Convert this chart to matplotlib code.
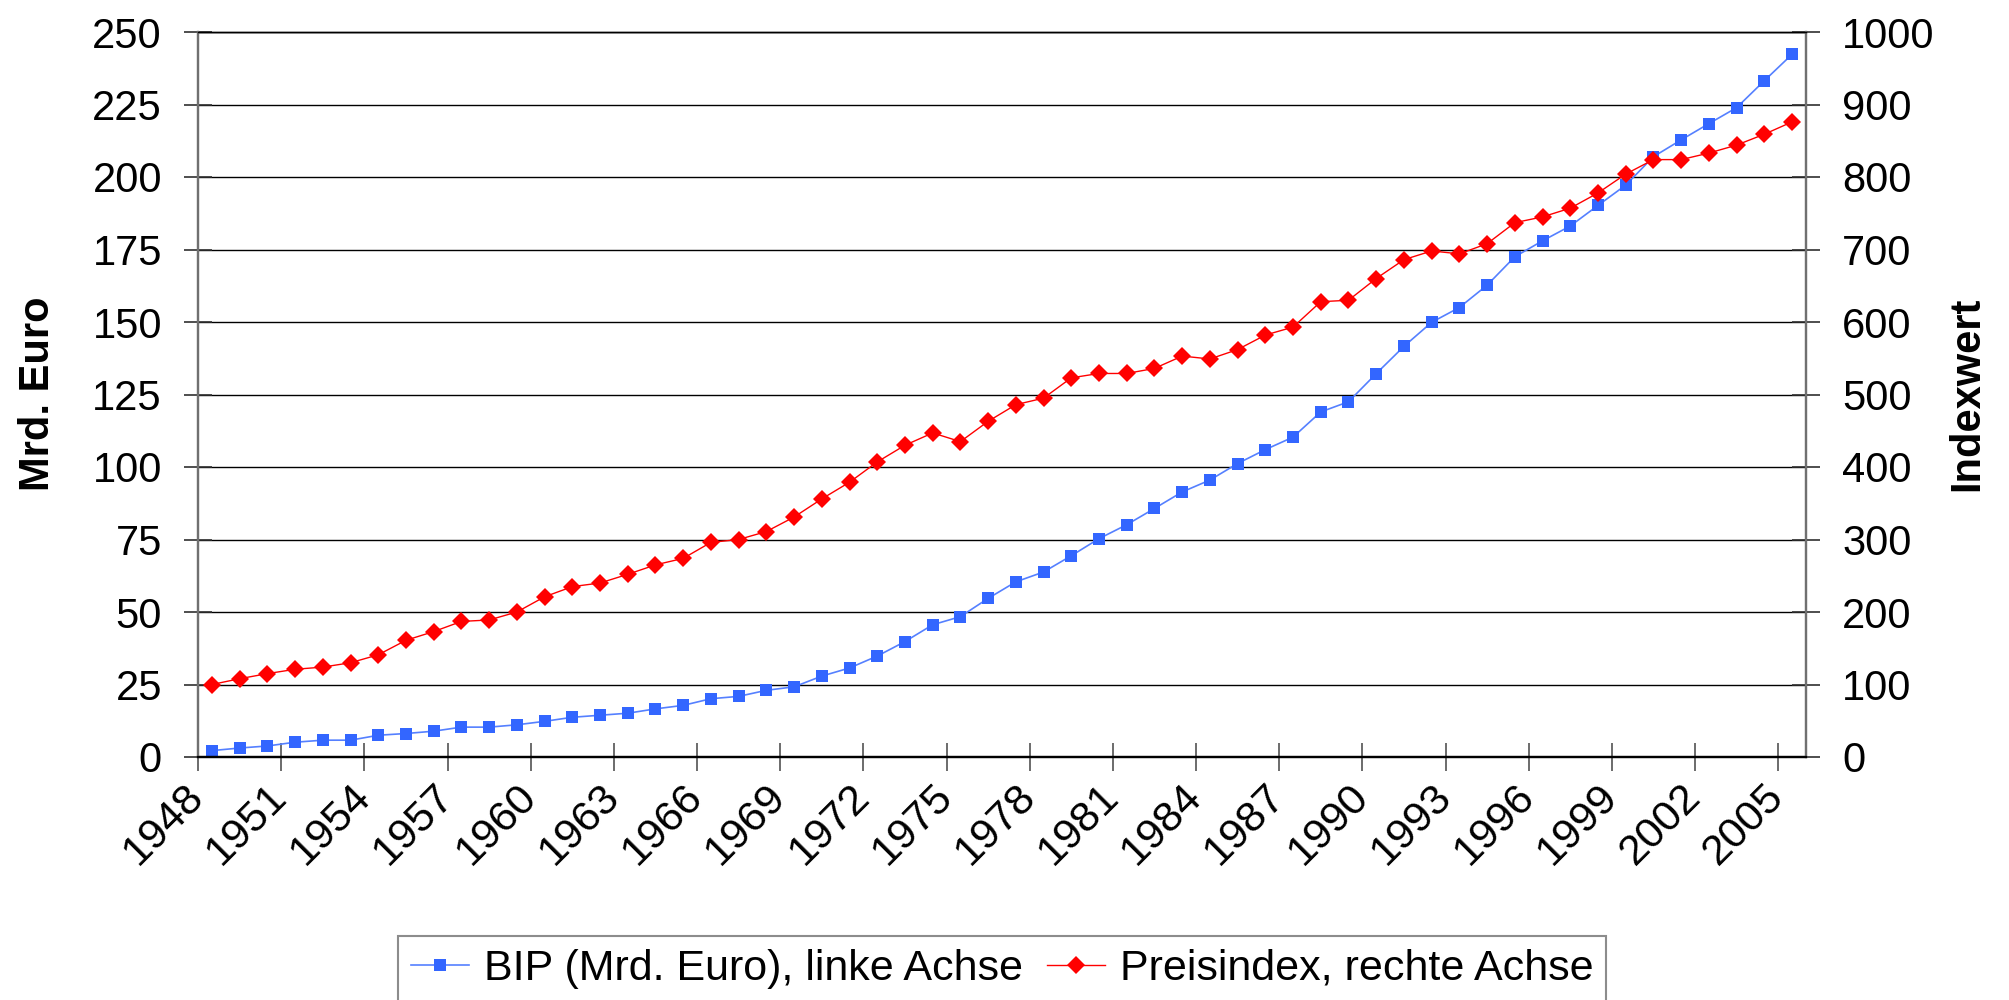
import numpy as np
import matplotlib
matplotlib.use('Agg')
import matplotlib.pyplot as plt
from matplotlib.ticker import FixedLocator, MultipleLocator

plt.rcParams['font.family'] = ['Liberation Sans', 'DejaVu Sans']

years = list(range(1948, 2006))
bip = [2.2, 3.1, 3.8, 5.1, 5.8, 5.8, 7.5, 8.1, 8.9, 10.3,
       10.3, 11.1, 12.3, 13.7, 14.4, 15.1, 16.6, 17.8, 20.1, 20.9,
       23.0, 24.2, 27.9, 30.7, 34.8, 39.8, 45.6, 48.4, 54.7, 60.4,
       63.8, 69.4, 75.3, 80.1, 85.7, 91.4, 95.5, 101.2, 106.0, 110.3,
       119.0, 122.5, 132.2, 141.6, 149.9, 155.0, 162.7, 172.5, 178.0, 183.1,
       190.2, 197.2, 207.0, 212.8, 218.4, 223.9, 233.2, 242.3]
preis = [100, 108, 115, 121, 124, 130, 141, 161, 173, 187,
         189, 200, 221, 235, 240, 252, 265, 274, 296, 300,
         311, 331, 356, 379, 407, 430, 447, 435, 463, 486,
         495, 523, 529, 529, 536, 553, 549, 562, 582, 593,
         628, 630, 660, 686, 698, 694, 708, 737, 745, 757,
         778, 804, 824, 824, 833, 844, 859, 876]

label_bip = 'BIP (Mrd. Euro), linke Achse'
label_preis = 'Preisindex, rechte Achse'


def plot_bip_preis():
    fig = plt.figure(figsize=(20.09, 10), dpi=100)
    ax1 = fig.add_axes([0.0986, 0.243, 0.8003, 0.725])
    ax2 = ax1.twinx()

    x = np.arange(len(years))
    l1, = ax1.plot(x, bip, '-', color='#5580FF', lw=1.2, marker='s', ms=8.2,
                   mfc='#3366FF', mec='#3366FF', mew=0, label=label_bip)
    l2, = ax2.plot(x, preis, '-', color='#FF0000', lw=1.0, marker='D', ms=9,
                   mfc='#FF0000', mec='#FF0000', mew=0, label=label_preis)

    ax1.set_xlim(-0.5, len(years) - 0.5)
    ax1.set_ylim(0, 250)
    ax2.set_ylim(0, 1000)
    ax1.yaxis.set_major_locator(MultipleLocator(25))
    ax2.yaxis.set_major_locator(MultipleLocator(100))
    ax1.grid(axis='y', color='black', lw=1.0)
    ax1.set_axisbelow(True)

    # year labels every 3rd category, tick marks between categories
    idx = list(range(0, len(years), 3))
    ax1.xaxis.set_major_locator(FixedLocator(idx))
    ax1.set_xticklabels([str(years[i]) for i in idx], rotation=45,
                        ha='right', va='top')
    ax1.xaxis.set_minor_locator(FixedLocator([i - 0.5 for i in idx]))
    ax1.tick_params(axis='x', which='major', length=0, pad=14, labelsize=31)
    ax1.tick_params(axis='x', which='minor', direction='inout', length=20,
                    width=1.3, color='#606060')
    ax1.tick_params(axis='y', direction='inout', length=20, width=1.2,
                    color='#303030', pad=16, labelsize=30)
    ax2.tick_params(axis='y', direction='inout', length=20, width=1.2,
                    color='#303030', pad=16, labelsize=30)

    for ax in (ax1, ax2):
        ax.spines['left'].set_color('#707070')
        ax.spines['right'].set_color('#707070')
        ax.spines['left'].set_linewidth(1.6)
        ax.spines['right'].set_linewidth(1.6)
        ax.spines['bottom'].set_color('black')
        ax.spines['bottom'].set_linewidth(1.6)
        ax.spines['top'].set_color('black')
        ax.spines['top'].set_linewidth(1.0)

    fig.text(0.019, 0.606, 'Mrd. Euro', rotation=90,
             fontsize=30, fontweight='bold', ha='center', va='center')
    fig.text(0.979, 0.606, 'Indexwert', rotation=90,
             fontsize=30, fontweight='bold', ha='center', va='center')

    leg = fig.legend(handles=[l1, l2], loc='upper left',
                     bbox_to_anchor=(0.198, 0.064), ncol=2, fontsize=31,
                     frameon=True, fancybox=False, handlelength=1.35,
                     handletextpad=0.35, columnspacing=0.55, borderpad=0.3,
                     borderaxespad=0)
    leg.get_frame().set_edgecolor('#707070')
    leg.get_frame().set_linewidth(1.5)

    fig.savefig('out.png', dpi=100)


if __name__ == '__main__':
    plot_bip_preis()
